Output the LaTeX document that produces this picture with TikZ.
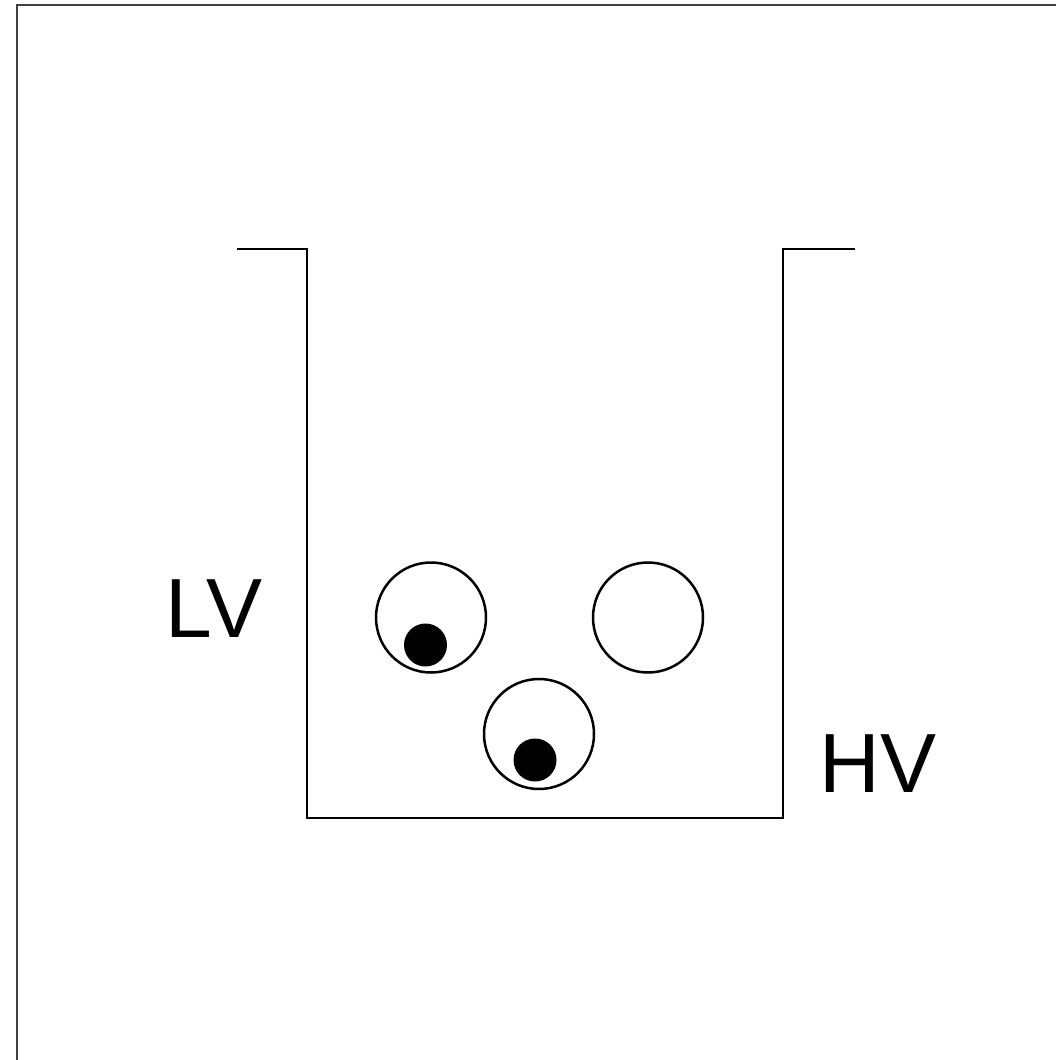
\documentclass[tikz,border=0pt]{standalone}
\usepackage{fontspec}
\setmainfont{Liberation Sans}
\begin{document}
\begin{tikzpicture}[x=1pt,y=-1pt,
  wall/.style={line width=2.5pt,line join=miter},
  ring/.style={circle,draw,line width=2.5pt,minimum size=110pt,inner sep=0pt},
  dot/.style={circle,fill=black,minimum size=43pt,inner sep=0pt},
  lbl/.style={font=\fontsize{84}{84}\selectfont,inner sep=0pt,anchor=base}]
\useasboundingbox (0,0) rectangle (1055,1060);
\draw[line width=1.2pt,black!75] (17,1065) -- (17,5) -- (1060,5);
% container
\coordinate (lipL) at (237,249);
\coordinate (tl) at (307,249);
\coordinate (bl) at (307,818);
\coordinate (br) at (783,818);
\coordinate (tr) at (783,249);
\coordinate (lipR) at (855,249);
\draw[wall] (lipL) -- (tl) -- (bl) -- (br) -- (tr) -- (lipR);
% balls
\node[ring] (c1) at (431,617.5) {};
\node[ring] (c2) at (648,617.5) {};
\node[ring] (c3) at (539,734) {};
\node[dot] (d1) at (425.5,645) {};
\node[dot] (d3) at (535,760) {};
% labels
\node[lbl] (lv) at (214,637) {LV};
\node[lbl] (hv) at (878,792) {HV};
\end{tikzpicture}
\end{document}
